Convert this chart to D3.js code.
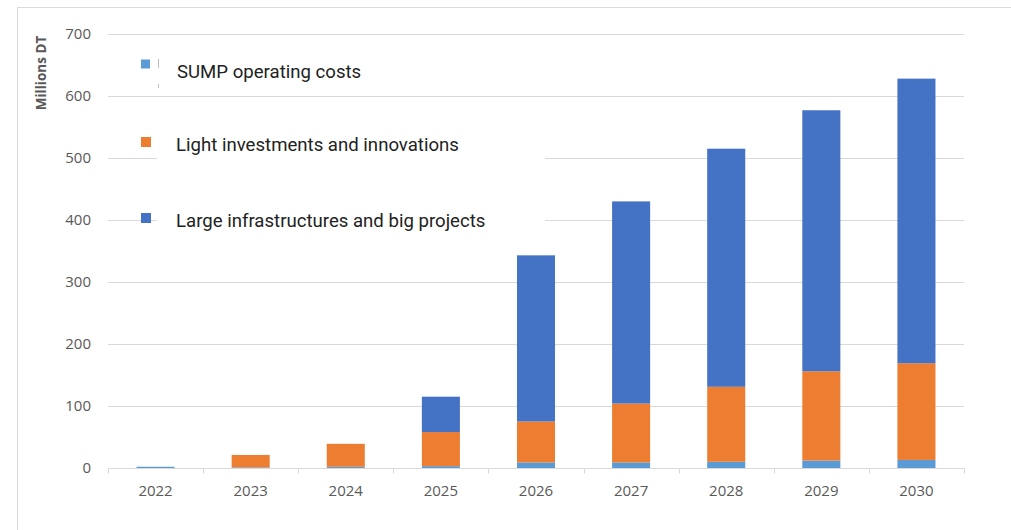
<!DOCTYPE html>
<html>
<head>
<meta charset="utf-8">
<script src="https://cdn.jsdelivr.net/npm/d3@7"></script>
<style>
  body { margin: 0; background: #fff; }
  svg { display: block; }
</style>
</head>
<body>
<svg width="1011" height="530"></svg>
<script>
var years = ["2022", "2023", "2024", "2025", "2026", "2027", "2028", "2029", "2030"];
var sumpCosts = [2, 1, 2, 3, 9, 9, 10, 12, 13];
var lightInvest = [0, 20, 37, 55, 66, 95, 121, 144, 156];
var largeInfra = [0, 0, 0, 57, 268, 326, 384, 421, 459];
var seriesNames = ["SUMP operating costs", "Light investments and innovations", "Large infrastructures and big projects"];
var seriesColors = ["#5B9BD5", "#ED7D31", "#4472C4"];
var yTicks = [0, 100, 200, 300, 400, 500, 600, 700];

var svg = d3.select("svg"),
    width = +svg.attr("width"),
    height = +svg.attr("height");

var margin = {left: 108, right: 47, top: 34, bottom: 62};

var x = d3.scaleBand()
    .domain(years)
    .range([margin.left, width - margin.right])
    .paddingInner(0.6)
    .paddingOuter(0.3);

var y = d3.scaleLinear()
    .domain([0, 700])
    .range([height - margin.bottom, margin.top]);

// outer frame
svg.append("line")
    .attr("x1", 17).attr("x2", width).attr("y1", 7.5).attr("y2", 7.5)
    .attr("stroke", "#dadada");
svg.append("line")
    .attr("x1", 17.5).attr("x2", 17.5).attr("y1", 7).attr("y2", height)
    .attr("stroke", "#dadada");

// gridlines
svg.append("g")
    .selectAll("line")
    .data(yTicks.slice(1))
    .enter().append("line")
      .attr("x1", margin.left)
      .attr("x2", width - margin.right)
      .attr("y1", function(d) { return Math.round(y(d)) + 0.5; })
      .attr("y2", function(d) { return Math.round(y(d)) + 0.5; })
      .attr("stroke", "#d9d9d9");

// y labels
svg.append("g")
    .selectAll("text")
    .data(yTicks)
    .enter().append("text")
      .attr("x", 91)
      .attr("y", function(d) { return y(d); })
      .attr("dy", "0.35em")
      .attr("text-anchor", "end")
      .attr("font-family", "Open Sans, sans-serif")
      .attr("font-size", 15)
      .attr("fill", "#595959")
      .text(function(d) { return d; });

svg.append("text")
    .attr("transform", "translate(46,73) rotate(-90)")
    .attr("text-anchor", "middle")
    .attr("font-family", "Open Sans, sans-serif")
    .attr("font-weight", "bold")
    .attr("font-size", 13.5)
    .attr("fill", "#595959")
    .text("Millions DT");

// stacked bars
var table = years.map(function(yr, i) {
  return {year: yr, s0: sumpCosts[i], s1: lightInvest[i], s2: largeInfra[i]};
});
var stack = d3.stack().keys(["s0", "s1", "s2"]);
var layers = stack(table);

svg.append("g")
  .selectAll("g")
  .data(layers)
  .enter().append("g")
    .attr("fill", function(d, i) { return seriesColors[i]; })
  .selectAll("rect")
  .data(function(d) { return d; })
  .enter().append("rect")
    .attr("x", function(d) { return x(d.data.year); })
    .attr("width", x.bandwidth())
    .attr("y", function(d) { return y(d[1]); })
    .attr("height", function(d) { return Math.max(0, y(d[0]) - y(d[1])); });

// x axis
var base = Math.round(y(0)) + 0.5;
svg.append("line")
    .attr("x1", margin.left).attr("x2", width - margin.right)
    .attr("y1", base).attr("y2", base)
    .attr("stroke", "#d9d9d9");

var step = x.step();
var bounds = d3.range(years.length + 1).map(function(i) { return margin.left + i * step; });
svg.append("g")
    .selectAll("line")
    .data(bounds)
    .enter().append("line")
      .attr("x1", function(d) { return Math.round(d) + 0.5; })
      .attr("x2", function(d) { return Math.round(d) + 0.5; })
      .attr("y1", base).attr("y2", base + 5)
      .attr("stroke", "#d9d9d9");

svg.append("g")
    .selectAll("text")
    .data(years)
    .enter().append("text")
      .attr("x", function(d) { return x(d) + x.bandwidth() / 2; })
      .attr("y", 496)
      .attr("text-anchor", "middle")
      .attr("font-family", "Open Sans, sans-serif")
      .attr("font-size", 15)
      .attr("fill", "#595959")
      .text(function(d) { return d; });

// legend (pasted over the plot)
svg.append("rect")
    .attr("x", 157).attr("y", 98)
    .attr("width", 388).attr("height", 152)
    .attr("fill", "#fff");

svg.append("line")
    .attr("x1", 158.5).attr("x2", 158.5).attr("y1", 59).attr("y2", 68)
    .attr("stroke", "#bbb");
svg.append("line")
    .attr("x1", 158.5).attr("x2", 158.5).attr("y1", 84).attr("y2", 88)
    .attr("stroke", "#bbb");

var legendY = [64, 142, 218];
var legendSize = [9, 10, 10];
var legend = svg.append("g");
seriesNames.forEach(function(name, i) {
  legend.append("rect")
      .attr("x", 141)
      .attr("y", legendY[i] - legendSize[i] / 2)
      .attr("width", legendSize[i])
      .attr("height", legendSize[i])
      .attr("fill", seriesColors[i]);
  legend.append("text")
      .attr("x", i === 0 ? 177 : 176)
      .attr("y", legendY[i] + (i === 0 ? 7 : 2))
      .attr("dy", "0.35em")
      .attr("font-family", "Roboto, sans-serif")
      .attr("font-size", 18.6)
      .attr("fill", "#222")
      .text(name);
});
</script>
</body>
</html>
